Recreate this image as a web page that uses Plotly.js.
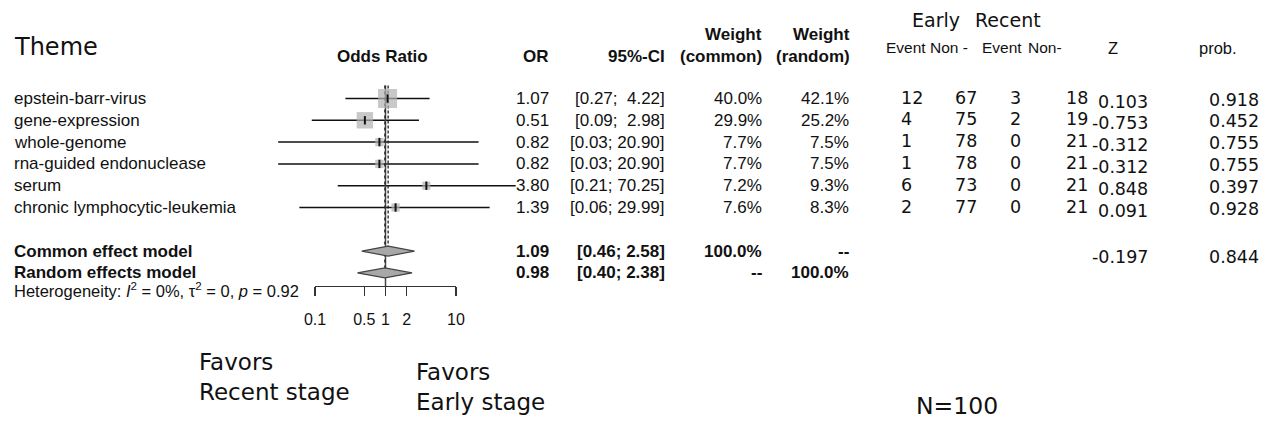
<!DOCTYPE html>
<html>
<head>
<meta charset="utf-8">
<script src="https://cdn.plot.ly/plotly-3.0.1.min.js"></script>
<style>html,body{margin:0;padding:0;background:#fff;}#chart{width:1262px;height:423px;}</style>
</head>
<body>
<div id="chart"></div>
<script>
// ---------- data ----------
const labels = ['epstein-barr-virus','gene-expression','whole-genome','rna-guided endonuclease','serum','chronic lymphocytic-leukemia'];
const oddsRatio = [1.07, 0.51, 0.82, 0.82, 3.80, 1.39];
const ciLower = [0.27, 0.09, 0.03, 0.03, 0.21, 0.06];
const ciUpper = [4.22, 2.98, 20.90, 20.90, 70.25, 29.99];
const weightCommon = [40.0, 29.9, 7.7, 7.7, 7.2, 7.6];
const weightRandom = [42.1, 25.2, 7.5, 7.5, 9.3, 8.3];
const earlyEvent = [12, 4, 1, 1, 6, 2];
const earlyNon = [67, 75, 78, 78, 73, 77];
const recentEvent = [3, 2, 0, 0, 0, 0];
const recentNon = [18, 19, 21, 21, 21, 21];
const zValues = ['0.103', '-0.753', '-0.312', '-0.312', '0.848', '0.091'];
const probValues = ['0.918', '0.452', '0.755', '0.755', '0.397', '0.928'];

const summaryLabels = ['Common effect model', 'Random effects model'];
const summaryOR = [1.09, 0.98];
const summaryLower = [0.46, 0.40];
const summaryUpper = [2.58, 2.38];
const summaryWeightCommon = ['100.0%', '--'];
const summaryWeightRandom = ['--', '100.0%'];
const summaryZ = '-0.197';
const summaryProb = '0.844';

const tickVals = [0.1, 0.5, 1, 2, 10];
const tickText = ['0.1', '0.5', '1', '2', '10'];
const heterogeneity = 'Heterogeneity: <i>I</i><sup>2</sup> = 0%, \u03c4<sup>2</sup> = 0, <i>p</i> = 0.92';

// ---------- layout helpers ----------
const W = 1262, H = 423;
const px = p => p / W;
const py = p => 1 - p / H;
const rows = labels.map((_, i) => i);
const summaryRows = [7, 8];
const rowTop = -0.6;
const axisRow = (286 - 98.5) / 21.8;
const diamondHalf = 0.23;

const RF = 'Liberation Sans, Arial, sans-serif';
const UF = 'DejaVu Sans, sans-serif';
const fs = 17;

const traces = [];

// CI lines
const ciX = [], ciY = [];
rows.forEach(i => { ciX.push(ciLower[i], ciUpper[i], null); ciY.push(i, i, null); });
traces.push({x: ciX, y: ciY, mode: 'lines', line: {color: '#111', width: 1.5}, hoverinfo: 'skip'});

// vertical reference lines
traces.push({x: [1, 1], y: [rowTop, axisRow], mode: 'lines', line: {color: '#444', width: 1.5}, hoverinfo: 'skip'});
traces.push({x: [summaryOR[0], summaryOR[0]], y: [rowTop, summaryRows[0] - diamondHalf], mode: 'lines', line: {color: '#222', width: 1.3, dash: '3px,2px'}, hoverinfo: 'skip'});
traces.push({x: [summaryOR[1], summaryOR[1]], y: [rowTop, summaryRows[1] - diamondHalf], mode: 'lines', line: {color: '#222', width: 1.3, dash: 'dot'}, hoverinfo: 'skip'});

// squares
traces.push({
  x: oddsRatio, y: rows, mode: 'markers',
  marker: {symbol: 'square', color: '#b0b0b0', size: weightCommon.map(w => 19 * Math.sqrt(w / 40)), line: {width: 0}},
  hoverinfo: 'skip'
});
// point estimate ticks
traces.push({
  x: oddsRatio, y: rows, mode: 'markers',
  marker: {symbol: 'line-ns', size: 6, line: {color: '#111', width: 2}},
  hoverinfo: 'skip'
});

// diamonds
const dX = [], dY = [];
summaryRows.forEach((r, k) => {
  dX.push(summaryLower[k], summaryOR[k], summaryUpper[k], summaryOR[k], summaryLower[k], null);
  dY.push(r, r - diamondHalf, r, r + diamondHalf, r, null);
});
traces.push({x: dX, y: dY, mode: 'lines', fill: 'toself', fillcolor: '#a8a8a8', line: {color: '#444', width: 1.2}, hoverinfo: 'skip'});

// invisible trace for the tick axis subplot
traces.push({x: [tickVals[0], tickVals[tickVals.length - 1]], y: [0, 0], xaxis: 'x2', yaxis: 'y2', mode: 'markers', marker: {opacity: 0}, hoverinfo: 'skip'});

// ---------- annotations ----------
const ann = [];
function txt(text, x, y, xanchor, font, extra) {
  ann.push(Object.assign({text: text, x: px(x), xref: 'paper', y: y, yref: 'y', xanchor: xanchor, yanchor: 'middle', showarrow: false, font: font}, extra || {}));
}
function ptxt(text, x, y, xanchor, font, extra) {
  ann.push(Object.assign({text: text, x: px(x), xref: 'paper', y: py(y), yref: 'paper', xanchor: xanchor, yanchor: 'middle', showarrow: false, font: font}, extra || {}));
}
const rf = {family: RF, size: fs, color: '#111'};
const rfb = {family: RF, size: fs, color: '#111', weight: 'bold'};
const uf = {family: UF, size: 17.5, color: '#111'};

// headers
ptxt('Theme', 12, 47, 'left', {family: UF, size: 24, color: '#111'});
ptxt('<b>Odds Ratio</b>', 382, 57, 'center', rfb);
ptxt('<b>OR</b>', 551, 57, 'right', rfb);
ptxt('<b>95%-CI</b>', 667, 57, 'right', rfb);
ptxt('<b>Weight</b>', 764, 34, 'right', rfb);
ptxt('<b>(common)</b>', 764, 57, 'right', rfb);
ptxt('<b>Weight</b>', 852, 34, 'right', rfb);
ptxt('<b>(random)</b>', 852, 57, 'right', rfb);
ptxt('Early', 910, 20, 'left', {family: UF, size: 19, color: '#111'});
ptxt('Recent', 973, 20, 'left', {family: UF, size: 19, color: '#111'});
const nf = {family: RF, size: 15.5, color: '#111'};
ptxt('Event', 906, 48, 'center', nf);
ptxt('Non -', 949, 48, 'center', nf);
ptxt('Event', 1002, 48, 'center', nf);
ptxt('Non-', 1045, 48, 'center', nf);
ptxt('Z', 1113, 48, 'center', {family: RF, size: 16.5, color: '#111'});
ptxt('prob.', 1218, 48, 'center', {family: RF, size: 16.5, color: '#111'});

// study rows
rows.forEach(i => {
  txt(labels[i], 12, i, 'left', rf);
  txt(oddsRatio[i].toFixed(2), 551, i, 'right', rf);
  const pad = ciUpper[i] < 10 ? '\u00a0\u00a0' : '\u00a0';
  txt('[' + ciLower[i].toFixed(2) + ';' + pad + ciUpper[i].toFixed(2) + ']', 667, i, 'right', rf);
  txt(weightCommon[i].toFixed(1) + '%', 764, i, 'right', rf);
  txt(weightRandom[i].toFixed(1) + '%', 851, i, 'right', rf);
  txt(String(earlyEvent[i]), 899, i, 'left', uf, {yshift: 1});
  txt(String(earlyNon[i]), 953, i, 'left', uf, {yshift: 1});
  txt(String(recentEvent[i]), 1008, i, 'left', uf, {yshift: 1});
  txt(String(recentNon[i]), 1064, i, 'left', uf, {yshift: 1});
  txt(zValues[i], 1150, i, 'right', uf, {yshift: -3});
  txt(probValues[i], 1207, i, 'left', uf, {yshift: -1});
});

// summary rows
summaryRows.forEach((r, k) => {
  txt('<b>' + summaryLabels[k] + '</b>', 12, r, 'left', rfb);
  txt('<b>' + summaryOR[k].toFixed(2) + '</b>', 551, r, 'right', rfb);
  txt('<b>[' + summaryLower[k].toFixed(2) + '; ' + summaryUpper[k].toFixed(2) + ']</b>', 667, r, 'right', rfb);
  txt('<b>' + summaryWeightCommon[k] + '</b>', 764, r, 'right', rfb);
  txt('<b>' + summaryWeightRandom[k] + '</b>', 851, r, 'right', rfb);
});
txt(summaryZ, 1150, summaryRows[0], 'right', uf, {yshift: -6});
txt(summaryProb, 1207, summaryRows[0], 'left', uf, {yshift: -6});

ptxt(heterogeneity, 12, 290, 'left', {family: RF, size: 16.5, color: '#111'});

// bottom notes
const bf = {family: UF, size: 23, color: '#111'};
ann.push({text: 'Favors<br>Recent stage', x: px(197), xref: 'paper', y: py(347), yref: 'paper', xanchor: 'left', yanchor: 'top', align: 'left', showarrow: false, font: bf});
ann.push({text: 'Favors<br>Early stage', x: px(414), xref: 'paper', y: py(357), yref: 'paper', xanchor: 'left', yanchor: 'top', align: 'left', showarrow: false, font: bf});
ptxt('N=100', 914, 406, 'left', {family: UF, size: 23.5, color: '#111'});

const layout = {
  width: W, height: H,
  margin: {l: 0, r: 0, t: 0, b: 0, pad: 0},
  paper_bgcolor: '#fff', plot_bgcolor: 'rgba(0,0,0,0)',
  showlegend: false,
  xaxis: {type: 'log', range: [-385.5 / 70.5, (W - 385.5) / 70.5], domain: [0, 1], visible: false, fixedrange: true},
  yaxis: {range: [(H - 98.5) / 21.8, -98.5 / 21.8], domain: [0, 1], visible: false, fixedrange: true},
  xaxis2: {
    type: 'log', range: [-1, 1], domain: [px(315), px(456)], anchor: 'y2',
    showline: true, linecolor: '#333', linewidth: 1.4, showgrid: false, zeroline: false,
    ticks: 'outside', ticklen: 9, tickwidth: 1.4, tickcolor: '#333',
    tickmode: 'array', tickvals: tickVals, ticktext: tickText, tickangle: 0,
    tickfont: {family: RF, size: 16, color: '#111'}, ticklabelstandoff: 9, fixedrange: true
  },
  yaxis2: {domain: [py(286), py(286) + 0.02], anchor: 'x2', visible: false, fixedrange: true},
  annotations: ann
};

Plotly.newPlot('chart', traces, layout, {staticPlot: true, displayModeBar: false});
</script>
</body>
</html>
